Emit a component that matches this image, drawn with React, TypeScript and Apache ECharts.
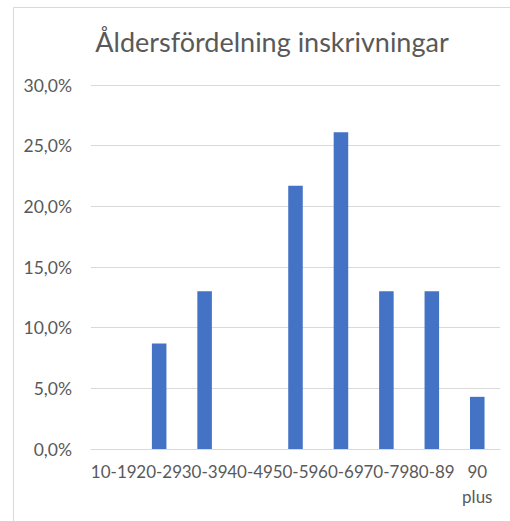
import React, { useEffect, useRef } from "react";
import * as echarts from "echarts";

const TITLE = "Åldersfördelning inskrivningar";
const categories = ["10-19", "20-29", "30-39", "40-49", "50-59", "60-69", "70-79", "80-89", "90 plus"];
const shares = [0, 8.7, 13.0, 0, 21.7, 26.1, 13.0, 13.0, 4.3];
const yMin = 0;
const yMax = 30;
const yStep = 5;

const FONT = "Lato, 'Open Sans', sans-serif";
const TEXT = "#595959";

export default function App() {
  const ref = useRef<HTMLDivElement>(null);
  useEffect(() => {
    if (!ref.current) return;
    const chart = echarts.init(ref.current, undefined, { renderer: "svg" });
    chart.setOption({
      animation: false,
      backgroundColor: "#ffffff",
      title: {
        text: TITLE,
        left: 267,
        textAlign: "center",
        top: 23,
        textStyle: { fontFamily: FONT, fontSize: 27, fontWeight: "normal", color: TEXT },
      },
      graphic: [
        {
          type: "rect",
          shape: { x: 13.5, y: 7.5, width: 600, height: 600 },
          style: { fill: "none", stroke: "#d9d9d9", lineWidth: 1 },
          silent: true,
        },
      ],
      grid: { left: 91, right: 10, top: 85, bottom: 72, containLabel: false },
      xAxis: {
        type: "category",
        data: categories,
        axisLine: { show: true, lineStyle: { color: "#d9d9d9", width: 1 } },
        axisTick: { show: false },
        axisLabel: {
          interval: 0,
          color: TEXT,
          fontFamily: FONT,
          fontSize: 17,
          margin: 10,
          lineHeight: 25,
          formatter: (v: string) => v.replace(" ", "\n"),
        },
      },
      yAxis: {
        type: "value",
        min: yMin,
        max: yMax,
        interval: yStep,
        axisLine: { show: false },
        axisTick: { show: false },
        splitLine: { lineStyle: { color: "#d9d9d9", width: 1 } },
        axisLabel: {
          color: TEXT,
          fontFamily: FONT,
          fontSize: 17.5,
          margin: 19,
          formatter: (v: number) => v.toFixed(1).replace(".", ",") + "%",
        },
      },
      series: [
        {
          type: "bar",
          data: shares,
          barWidth: "32%",
          itemStyle: { color: "#4472C4" },
        },
      ],
    });
    return () => chart.dispose();
  }, []);
  return (
    <div
      ref={ref}
      style={{ position: "fixed", left: 0, top: 0, width: 510, height: 521, background: "#fff" }}
    />
  );
}
